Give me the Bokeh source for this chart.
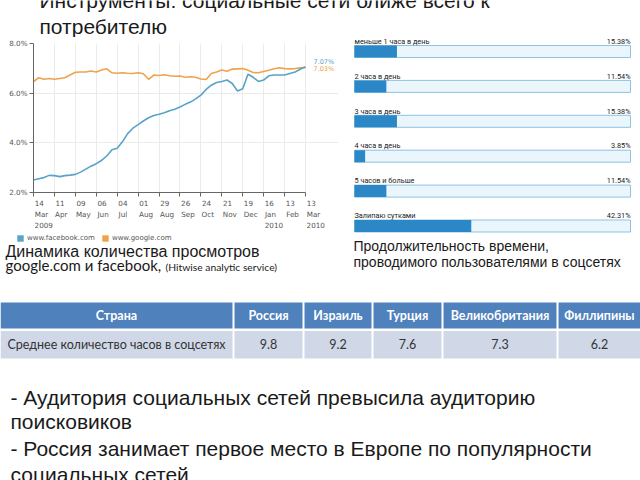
from bokeh.plotting import figure
from bokeh.layouts import column, row
from bokeh.models import Range1d, FixedTicker, PrintfTickFormatter, Legend, LegendItem
from bokeh.core.properties import value
from bokeh.embed import file_html
from bokeh.resources import INLINE

# ---------------- data ----------------
title_lines = ["Инструменты: социальные сети ближе всего к", "потребителю"]

weeks = list(range(53))
facebook = [2.50, 2.55, 2.60, 2.69, 2.68, 2.64, 2.68, 2.70, 2.73, 2.82,
            2.94, 3.06, 3.16, 3.29, 3.47, 3.72, 3.78, 4.04, 4.37, 4.59,
            4.73, 4.88, 5.01, 5.10, 5.15, 5.21, 5.29, 5.35, 5.44, 5.55,
            5.64, 5.77, 5.92, 6.15, 6.32, 6.43, 6.47, 6.53, 6.39, 6.09,
            6.18, 6.76, 6.64, 6.47, 6.53, 6.70, 6.73, 6.73, 6.73, 6.79,
            6.85, 6.96, 7.07]
google = [6.47, 6.62, 6.56, 6.59, 6.56, 6.59, 6.62, 6.73, 6.84, 6.85,
          6.85, 6.89, 6.85, 6.93, 6.98, 6.82, 6.80, 6.82, 6.80, 6.79,
          6.82, 6.78, 6.56, 6.73, 6.71, 6.74, 6.70, 6.68, 6.69, 6.64,
          6.66, 6.64, 6.57, 6.55, 6.79, 6.85, 6.93, 6.88, 6.97, 6.98,
          6.99, 6.92, 6.83, 6.82, 6.87, 6.92, 6.98, 7.02, 6.99, 6.98,
          6.99, 7.02, 7.03]
series_names = ["www.facebook.com", "www.google.com"]
x_tick_weeks = [0, 4, 8, 12, 16, 20, 24, 28, 32, 36, 40, 44, 48, 52]
x_tick_labels = ["14\nMar\n2009", "11\nApr", "09\nMay", "06\nJun", "04\nJul",
                 "01\nAug", "29\nAug", "26\nSep", "24\nOct", "21\nNov",
                 "19\nDec", "16\nJan\n2010", "13\nFeb", "13\nMar\n2010"]
y_ticks = [2, 4, 6, 8]

bar_labels = ["меньше 1 часа в день", "2 часа в день", "3 часа в день",
              "4 часа в день", "5 часов и больше", "Залипаю сутками"]
bar_values = [15.38, 11.54, 15.38, 3.85, 11.54, 42.31]

table_header = ["Страна", "Россия", "Израиль", "Турция", "Великобритания", "Филлипины"]
table_row_label = "Среднее количество часов в соцсетях"
table_values = [9.8, 9.2, 7.6, 7.3, 6.2]

caption_left = ["Динамика количества просмотров", "google.com и facebook,", "(Hitwise analytic service)"]
caption_right = ["Продолжительность времени,", "проводимого пользователями в соцсетях"]
bullets = [" - Аудитория социальных сетей превысила аудиторию", "поисковиков",
           " - Россия занимает первое место в Европе по популярности", "социальных сетей"]

# ---------------- styles ----------------
BLUE = "#57a3c9"
ORANGE = "#f0a24c"
SANS = "Liberation Sans"
TXT = "#1a1a1a"
TICK_FS = 7.2
# distance (em) from the alphabetic baseline up to the middle of the font box
MID = {"Liberation Sans": 0.3465, "Lato": 0.387, "Roboto": 0.342, "DejaVu Sans": 0.346}

# DejaVu Sans advance widths (em) used to left-align the centred tick labels
DJV = {"0": .636, "1": .636, "2": .636, "3": .636, "4": .636, "5": .636, "6": .636,
       "7": .636, "8": .636, "9": .636, "M": .863, "a": .613, "r": .411, "A": .684,
       "p": .635, "y": .592, "J": .295, "u": .634, "n": .634, "l": .278, "g": .635,
       "S": .635, "e": .615, "O": .787, "c": .550, "t": .392, "N": .748, "o": .612,
       "v": .592, "D": .770, "F": .575, "b": .635}


def left_pad(label, fs=TICK_FS):
    out = []
    for line in label.split("\n"):
        w = sum(DJV.get(ch, .6) for ch in line) * fs
        n = int(round((w + 2.0) / (0.318 * fs)))
        out.append("\u00a0" * n + line)
    return "\n".join(out)


def canvas(w, h):
    p = figure(width=w, height=h, x_range=Range1d(0, w), y_range=Range1d(h, 0),
               output_backend="svg", toolbar_location=None,
               x_axis_type=None, y_axis_type=None, min_border=0)
    p.outline_line_color = None
    p.background_fill_color = "white"
    p.border_fill_color = "white"
    return p


def put_text(p, xs, baselines, texts, font, fs, **kw):
    """text placed by its alphabetic baseline (given in canvas pixels)"""
    ys = [b - MID[font] * fs for b in baselines]
    p.text(x=xs, y=ys, text=texts, text_font=value(font), text_font_size=f"{fs}px",
           text_baseline="middle", **kw)


# ---- title (full width, y 0..37) ----
tt = canvas(640, 37)
put_text(tt, [39, 39], [7.3, 33], title_lines, SANS, 21, text_color=TXT)

# ---- line chart (x 0..345, y 37..233) ----
lp = figure(width=345, height=196, x_range=Range1d(0, 52 * 305 / 272), y_range=Range1d(2, 8),
            output_backend="svg", toolbar_location=None,
            min_border_left=33, min_border_right=7, min_border_top=6, min_border_bottom=33)
lp.outline_line_color = None
lp.xaxis.ticker = FixedTicker(ticks=x_tick_weeks)
lp.xaxis.major_label_overrides = {w: left_pad(l) for w, l in zip(x_tick_weeks, x_tick_labels)}
lp.xaxis.bounds = (weeks[0], weeks[-1])
lp.yaxis.ticker = FixedTicker(ticks=y_ticks)
lp.yaxis.formatter = PrintfTickFormatter(format="%.1f%%")
for ax in (lp.xaxis[0], lp.yaxis[0]):
    ax.axis_line_color = "#666666"
    ax.major_tick_line_color = "#666666"
    ax.minor_tick_line_color = None
    ax.major_tick_in = 0
    ax.major_tick_out = 4
    ax.major_label_text_font = "DejaVu Sans"
    ax.major_label_text_font_size = f"{TICK_FS}px"
    ax.major_label_text_color = "#555555"
lp.xaxis.major_label_standoff = 2
lp.xaxis.major_label_text_line_height = 1.25
lp.yaxis.major_label_standoff = 2
lp.grid.grid_line_color = "#ebebeb"

lp.line(weeks, google, color=ORANGE, line_width=1.6)
lp.line(weeks, facebook, color=BLUE, line_width=1.6)
lp.text(x=[weeks[-1]], y=[facebook[-1]], text=[f"{facebook[-1]:.2f}%"], x_offset=8,
        y_offset=-4.5, text_font=value("DejaVu Sans"), text_font_size="6.5px",
        text_baseline="middle", text_color=BLUE)
lp.text(x=[weeks[-1]], y=[google[-1]], text=[f"{google[-1]:.2f}%"], x_offset=8,
        y_offset=1.5, text_font=value("DejaVu Sans"), text_font_size="6.5px",
        text_baseline="middle", text_color=ORANGE)

# ---- bar panel (x 345..640, y 37..233) ----
rows_idx = list(range(len(bar_labels)))
BAR_FS = 7.3
bp = figure(width=295, height=196, x_range=Range1d(-3.26, 103.62),
            y_range=Range1d(5.215, -0.401), output_backend="svg", toolbar_location=None,
            x_axis_type=None, y_axis_type=None, min_border=0)
bp.outline_line_color = None
bp.hbar(y=rows_idx, left=0, right=100, height=0.344, fill_color="#eaf5fc",
        line_color="#8cc3e3", line_width=1)
bp.hbar(y=rows_idx, left=0, right=bar_values, height=0.344, fill_color="#2b87c6",
        line_color=None)
lab_off = -7.7 - MID["Roboto"] * BAR_FS
bp.text(x=[0] * len(rows_idx), y=rows_idx, text=bar_labels, y_offset=lab_off,
        text_font=value("Roboto"), text_font_size=f"{BAR_FS}px",
        text_baseline="middle", text_color="#222222")
bp.text(x=[100] * len(rows_idx), y=rows_idx, text=[f"{v:.2f}%" for v in bar_values],
        y_offset=lab_off, text_align="right", text_font=value("Roboto"),
        text_font_size=f"{BAR_FS}px", text_baseline="middle", text_color="#222222")

# ---- captions + legend strip (y 233..297) ----
cp = canvas(640, 64)
put_text(cp, [5], [23.7], [caption_left[0]], SANS, 16, text_color=TXT)
put_text(cp, [5], [37.5], [caption_left[1]], "Lato", 15, text_color=TXT)
put_text(cp, [165], [37.5], [caption_left[2]], "Lato", 10.3, text_color=TXT)
put_text(cp, [353, 353], [17.7, 33.7], caption_right, SANS, 14, text_color=TXT)
# legend swatches: zero-area quads (nothing visible on the canvas itself)
sq_f = cp.quad(left=[0], right=[0], top=[0], bottom=[0], fill_color=BLUE, line_color=None)
sq_g = cp.quad(left=[0], right=[0], top=[0], bottom=[0], fill_color=ORANGE, line_color=None)
legend = Legend(items=[LegendItem(label=series_names[0], renderers=[sq_f]),
                       LegendItem(label=series_names[1], renderers=[sq_g])],
                location=(16, 55), orientation="horizontal",
                label_text_font_size="7px", label_text_font="DejaVu Sans",
                label_text_color="#555555", glyph_width=8, glyph_height=8,
                label_standoff=3, spacing=6, padding=0, margin=0,
                border_line_color=None, background_fill_alpha=0,
                label_height=8)
cp.add_layout(legend)

# ---- table + bullets (y 297..480) ----
bt = canvas(640, 183)
col_edges = [0, 234, 304, 373, 443, 558, 640]
gap = 2
lefts = col_edges[:-1]
rights = [e - gap for e in col_edges[1:-1]] + [col_edges[-1]]
bt.quad(left=lefts, right=rights, top=5, bottom=31, fill_color="#4f81bd", line_color=None)
bt.quad(left=lefts, right=rights, top=33.5, bottom=61, fill_color="#d0d8e8", line_color=None)
centers = [(a + b) / 2 for a, b in zip(lefts, rights)]
bt.text(x=centers, y=[17.5] * 6, text=table_header, text_align="center",
        text_baseline="middle", text_font=value("Lato"), text_font_style="bold",
        text_font_size="12.5px", text_color="white")
bt.text(x=centers, y=[46.5] * 6, text=[table_row_label] + [f"{v:.1f}" for v in table_values],
        text_align="center", text_baseline="middle", text_font=value("Lato"),
        text_font_size="12.5px", text_color="#333333")
put_text(bt, [10, 10, 10, 10], [107, 131, 158, 184], bullets, SANS, 21, text_color=TXT)

layout = column(tt, row(column(lp), column(bp)), cp, bt)

open("out.html", "w").write(file_html(layout, INLINE))
